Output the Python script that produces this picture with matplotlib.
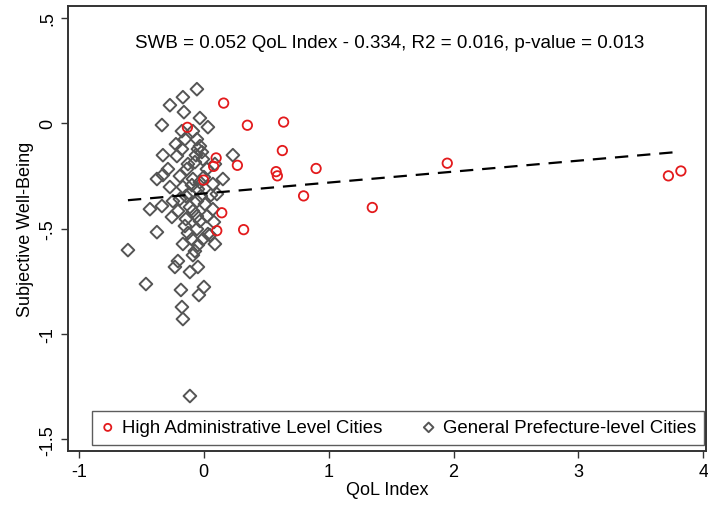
import numpy as np
import matplotlib
matplotlib.use('Agg')
import matplotlib.pyplot as plt

# High administrative level cities (QoL index, SWB)
high_qol = [0.16, 0.35, 0.64, -0.13, 0.63, 0.10, 0.08, 0.27, 0.58, 0.59,
            0.90, 1.95, 0.00, 0.80, 1.35, 0.145, 0.105, 0.32, 3.72, 3.82]
high_swb = [0.095, -0.01, 0.005, -0.02, -0.13, -0.165, -0.205, -0.20, -0.23, -0.25,
            -0.215, -0.19, -0.27, -0.345, -0.40, -0.425, -0.51, -0.505, -0.25, -0.227]

# General prefecture-level cities
gen_qol = [-0.054, -0.166, -0.270, -0.158, -0.334, -0.030, 0.034, -0.174, -0.086, -0.054,
           -0.150, -0.046, -0.326, -0.214, -0.174, 0.234, -0.006, -0.070, -0.134, -0.374,
           -0.326, -0.190, -0.086, -0.030, 0.074, 0.154, -0.166, -0.110, -0.246, -0.054,
           0.106, -0.430, -0.334, -0.206, -0.110, -0.054, 0.026, 0.074, -0.374, -0.150,
           -0.054, 0.034, -0.606, -0.166, -0.006, 0.050, 0.090, -0.070, -0.086, -0.206,
           -0.230, -0.110, -0.046, -0.462, -0.182, 0.002, -0.038, -0.174, -0.166, -0.110,
           -0.030, -0.014, -0.062, -0.126, -0.094, -0.046, -0.142, -0.022, 0.010, -0.086,
           -0.142, -0.030, 0.082, -0.270, -0.286, -0.222, 0.026, 0.090, 0.058, -0.190,
           -0.094, -0.046, -0.254, -0.126, 0.002]
gen_swb = [0.161, 0.123, 0.085, 0.052, -0.009, 0.024, -0.019, -0.038, -0.038, -0.076,
           -0.076, -0.123, -0.152, -0.156, -0.123, -0.152, -0.171, -0.185, -0.218, -0.265,
           -0.246, -0.251, -0.265, -0.280, -0.289, -0.265, -0.303, -0.336, -0.370, -0.370,
           -0.336, -0.408, -0.393, -0.417, -0.398, -0.441, -0.441, -0.408, -0.517, -0.488,
           -0.502, -0.526, -0.602, -0.573, -0.550, -0.531, -0.573, -0.607, -0.626, -0.654,
           -0.682, -0.706, -0.682, -0.763, -0.791, -0.777, -0.815, -0.872, -0.929, -1.294,
           -0.109, -0.137, -0.152, -0.194, -0.294, -0.313, -0.346, -0.346, -0.384, -0.417,
           -0.455, -0.464, -0.469, -0.303, -0.218, -0.100, -0.218, -0.194, -0.341, -0.360,
           -0.550, -0.578, -0.445, -0.521, -0.256]

slope = 0.052
intercept = -0.334
x_ticks = [-1, 0, 1, 2, 3, 4]
y_ticks = [0.5, 0, -0.5, -1, -1.5]
y_tick_labels = ['.5', '0', '-.5', '-1', '-1.5']

plt.rcParams['font.family'] = ['Liberation Sans', 'DejaVu Sans']
fs = 13

fig = plt.figure(figsize=(7.08, 5.06), dpi=100)
ax = fig.add_axes([0.096, 0.107, 0.901, 0.879])

ax.scatter(high_qol, high_swb, s=46, marker='o', facecolors='none',
           edgecolors='#e31a1c', linewidths=1.3, label='High Administrative Level Cities', zorder=3)
ax.scatter(gen_qol, gen_swb, s=42, marker='D', facecolors='none',
           edgecolors='#555555', linewidths=1.4, label='General Prefecture-level Cities', zorder=2)

all_x = np.array(high_qol + gen_qol)
xs = np.array([all_x.min(), all_x.max()])
ax.plot(xs, slope * xs + intercept, color='black', linestyle=(0, (6, 4)), linewidth=1.6, zorder=4)

ax.text(0.505, 0.918, 'SWB = 0.052 QoL Index - 0.334, R2 = 0.016, p-value = 0.013',
        transform=ax.transAxes, ha='center', va='center', fontsize=13.5)

ax.set_xlim(-1.086, 4.02)
ax.set_ylim(-1.554, 0.555)
ax.set_xticks(x_ticks)
ax.set_xticklabels([str(t) for t in x_ticks])
ax.set_yticks(y_ticks)
ax.set_yticklabels(y_tick_labels, rotation=90, va='center')
ax.tick_params(direction='out', length=5, width=1, colors='#333333', labelsize=fs, labelcolor='black')
ax.set_xlabel('QoL Index', fontsize=fs, labelpad=1)
ax.set_ylabel('Subjective Well-Being', fontsize=fs, labelpad=4)
for sp in ax.spines.values():
    sp.set_color('#333333')
    sp.set_linewidth(1.4)

leg = ax.legend(loc='lower left', bbox_to_anchor=(0.0376, 0.014), borderaxespad=0, ncol=2,
                fontsize=13.4, frameon=True, fancybox=False, edgecolor='#333333',
                handlelength=0.8, handletextpad=0.35, columnspacing=2.1, borderpad=0.45,
                markerscale=0.75)
leg.get_frame().set_linewidth(1.0)

fig.savefig('out.png', dpi=100, facecolor='white')
